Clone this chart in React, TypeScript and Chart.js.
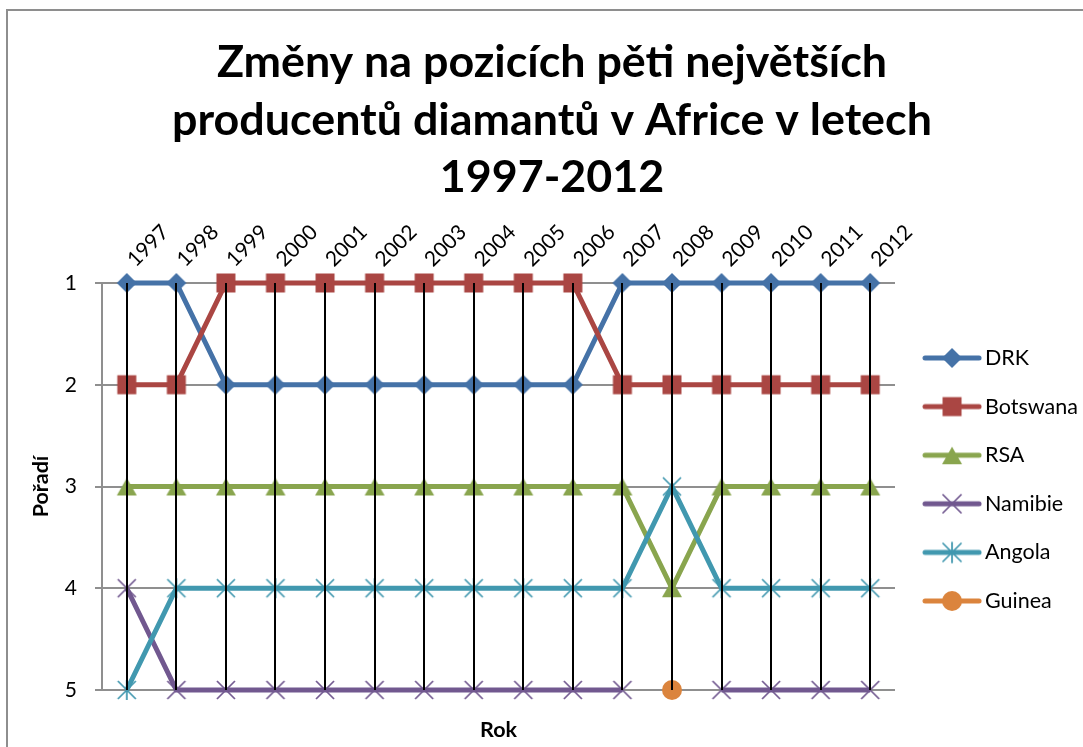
import React, { useEffect, useRef } from 'react';
import { Chart, registerables } from 'chart.js';

Chart.register(...registerables);

// ---- data ----
const years = ['1997', '1998', '1999', '2000', '2001', '2002', '2003', '2004', '2005', '2006', '2007', '2008', '2009', '2010', '2011', '2012'];
const drk = [1, 1, 2, 2, 2, 2, 2, 2, 2, 2, 1, 1, 1, 1, 1, 1];
const botswana = [2, 2, 1, 1, 1, 1, 1, 1, 1, 1, 2, 2, 2, 2, 2, 2];
const rsa = [3, 3, 3, 3, 3, 3, 3, 3, 3, 3, 3, 4, 3, 3, 3, 3];
const namibie = [4, 5, 5, 5, 5, 5, 5, 5, 5, 5, 5, null, 5, 5, 5, 5];
const angola = [5, 4, 4, 4, 4, 4, 4, 4, 4, 4, 4, 3, 4, 4, 4, 4];
const guinea = [null, null, null, null, null, null, null, null, null, null, null, 5, null, null, null, null];
const seriesNames = ['DRK', 'Botswana', 'RSA', 'Namibie', 'Angola', 'Guinea'];
const seriesValues = [drk, botswana, rsa, namibie, angola, guinea];
const seriesColors = ['#4572A7', '#AA4643', '#89A54E', '#71588F', '#4198AF', '#DB843D'];
const seriesMarkers = ['diamond', 'square', 'triangle', 'x', 'star', 'circle'];
const yMin = 1;
const yMax = 5;
const titleLines = ['Změny na pozicích pěti největších', 'producentů diamantů v Africe v letech', '1997-2012'];
const yTitle = 'Pořadí';
const xTitle = 'Rok';

// ---- layout constants ----
const FONT = 'Lato';
const PL = 18;
const CW = 1088 - PL;
const CH = 937;
const CHART_RIGHT = 887;
const LEGEND_FS = 21.5;

function drawMarker(ctx: CanvasRenderingContext2D, kind: string, cx: number, cy: number, color: string) {
  ctx.save();
  ctx.fillStyle = color;
  ctx.strokeStyle = color;
  ctx.lineWidth = 1.75;
  ctx.beginPath();
  switch (kind) {
    case 'diamond':
      ctx.moveTo(cx, cy - 10);
      ctx.lineTo(cx + 10, cy);
      ctx.lineTo(cx, cy + 10);
      ctx.lineTo(cx - 10, cy);
      ctx.closePath();
      ctx.fill();
      break;
    case 'square':
      ctx.rect(cx - 9.5, cy - 9.5, 19, 19);
      ctx.fill();
      break;
    case 'triangle':
      ctx.moveTo(cx, cy - 8.5);
      ctx.lineTo(cx + 10, cy + 9);
      ctx.lineTo(cx - 10, cy + 9);
      ctx.closePath();
      ctx.fill();
      break;
    case 'x':
      ctx.moveTo(cx - 9, cy - 9);
      ctx.lineTo(cx + 9, cy + 9);
      ctx.moveTo(cx + 9, cy - 9);
      ctx.lineTo(cx - 9, cy + 9);
      ctx.stroke();
      break;
    case 'star':
      ctx.moveTo(cx - 9, cy - 9);
      ctx.lineTo(cx + 9, cy + 9);
      ctx.moveTo(cx + 9, cy - 9);
      ctx.lineTo(cx - 9, cy + 9);
      ctx.moveTo(cx, cy - 10);
      ctx.lineTo(cx, cy + 10);
      ctx.stroke();
      break;
    case 'circle':
      ctx.arc(cx, cy, 10, 0, Math.PI * 2);
      ctx.fill();
      break;
  }
  ctx.restore();
}

function markerCanvas(kind: string, color: string) {
  const c = document.createElement('canvas');
  c.width = 30;
  c.height = 30;
  const ctx = c.getContext('2d')!;
  drawMarker(ctx, kind, 15, 15, color);
  return c;
}

function legendCanvas(kind: string, color: string) {
  const c = document.createElement('canvas');
  c.width = 60;
  c.height = 26;
  const ctx = c.getContext('2d')!;
  ctx.strokeStyle = color;
  ctx.lineWidth = 5;
  ctx.lineCap = 'round';
  ctx.beginPath();
  ctx.moveTo(3, 13);
  ctx.lineTo(57, 13);
  ctx.stroke();
  drawMarker(ctx, kind, 30, 13, color);
  return c;
}

const dropLines = {
  id: 'dropLines',
  afterDatasetsDraw(chart: any) {
    const xs = chart.scales.x;
    const ys = chart.scales.y;
    const ctx = chart.ctx;
    ctx.save();
    ctx.strokeStyle = '#000000';
    ctx.lineWidth = 2;
    years.forEach((_, i) => {
      const vals = seriesValues.map((s) => s[i]).filter((v) => v !== null) as number[];
      if (!vals.length) return;
      const maxV = Math.max(...vals);
      const px = Math.round(xs.getPixelForValue(i));
      ctx.beginPath();
      ctx.moveTo(px, ys.getPixelForValue(yMin));
      ctx.lineTo(px, ys.getPixelForValue(maxV));
      ctx.stroke();
    });
    ctx.restore();
  },
};

export default function App() {
  const ref = useRef<HTMLCanvasElement>(null);

  useEffect(() => {
    document.body.style.overflow = 'hidden';
    const canvas = ref.current!;
    Chart.defaults.font.family = FONT;
    Chart.defaults.color = '#000000';

    const pointImgs = seriesMarkers.map((m, i) => markerCanvas(m, seriesColors[i]));
    const legendImgs = seriesMarkers.map((m, i) => legendCanvas(m, seriesColors[i]));

    const gridColor = '#8f8f8f';

    const chart = new Chart(canvas, {
      type: 'line',
      data: {
        labels: years,
        datasets: seriesNames.map((name, i) => ({
          label: name,
          data: seriesValues[i],
          borderColor: seriesColors[i],
          backgroundColor: seriesColors[i],
          borderWidth: 5,
          pointStyle: pointImgs[i],
          pointRadius: 10,
          pointHoverRadius: 10,
          spanGaps: false,
          tension: 0,
          clip: false,
          order: -i,
        })),
      },
      options: {
        responsive: false,
        animation: false,
        devicePixelRatio: 1,
        events: [],
        layout: { padding: { left: PL, right: 0, top: 0, bottom: 0 } },
        plugins: {
          tooltip: { enabled: false },
          title: {
            display: true,
            text: titleLines,
            color: '#000000',
            font: { family: FONT, size: 44.8, weight: 'bold', lineHeight: 57.5 / 44.8 },
            padding: { top: 23.25, bottom: 0 },
          },
          legend: {
            display: true,
            position: 'right',
            labels: {
              color: '#000000',
              font: { family: FONT, size: LEGEND_FS },
              usePointStyle: true,
              pointStyleWidth: 44.5,
              padding: 48.6 - LEGEND_FS,
              generateLabels: () =>
                seriesNames.map((name, i) => ({
                  text: name,
                  fillStyle: seriesColors[i],
                  strokeStyle: seriesColors[i],
                  lineWidth: 0,
                  pointStyle: legendImgs[i],
                  hidden: false,
                  datasetIndex: i,
                })),
            },
          },
        },
        scales: {
          x: {
            type: 'category',
            position: 'top',
            offset: true,
            grid: { display: false, drawTicks: false },
            border: { display: false },
            ticks: {
              color: '#000000',
              font: { family: FONT, size: 21 },
              minRotation: 45,
              maxRotation: 45,
              autoSkip: false,
              padding: 11,
              labelOffset: 22,
            },
            afterFit: (s: any) => {
              s.height = 76.25;
            },
          },
          x2: {
            type: 'category',
            labels: years,
            position: 'bottom',
            grid: { display: false, drawTicks: false },
            border: { display: false },
            ticks: { display: false },
            title: {
              display: true,
              text: xTitle,
              color: '#000000',
              font: { family: FONT, size: 21.5, weight: 'bold' },
              padding: { top: 0, bottom: 205 },
            },
            afterFit: (s: any) => {
              s.height = CH - 679;
            },
          },
          y: {
            type: 'linear',
            reverse: true,
            min: yMin,
            max: yMax,
            ticks: {
              stepSize: 1,
              color: '#000000',
              font: { family: FONT, size: 21 },
              padding: 18,
            },
            grid: { color: gridColor, lineWidth: 2, tickLength: 7, drawTicks: true },
            border: { display: true, color: gridColor, width: 2 },
            title: {
              display: true,
              text: yTitle,
              color: '#000000',
              font: { family: FONT, size: 21.5, weight: 'bold' },
              padding: { top: 2.6, bottom: 0 },
            },
            afterFit: (s: any) => {
              s.width = 94 - PL;
            },
          },
          spacer: {
            type: 'linear',
            position: 'right',
            display: true,
            grid: { display: false, drawTicks: false },
            border: { display: false },
            ticks: { display: false },
            afterFit: (s: any) => {
              const lw = s.chart.legend ? s.chart.legend.width : 0;
              s.width = Math.max(0, CW - lw - CHART_RIGHT);
            },
          },
        },
      } as any,
      plugins: [dropLines],
    });

    return () => {
      chart.destroy();
    };
  }, []);

  return (
    <div
      style={{
        position: 'absolute',
        left: 6,
        top: 9,
        width: 1110,
        height: 950,
        border: '2px solid #8e8e8e',
        background: '#ffffff',
      }}
    >
      <canvas ref={ref} width={CW} height={CH} style={{ display: 'block', width: CW, height: CH }} />
    </div>
  );
}
